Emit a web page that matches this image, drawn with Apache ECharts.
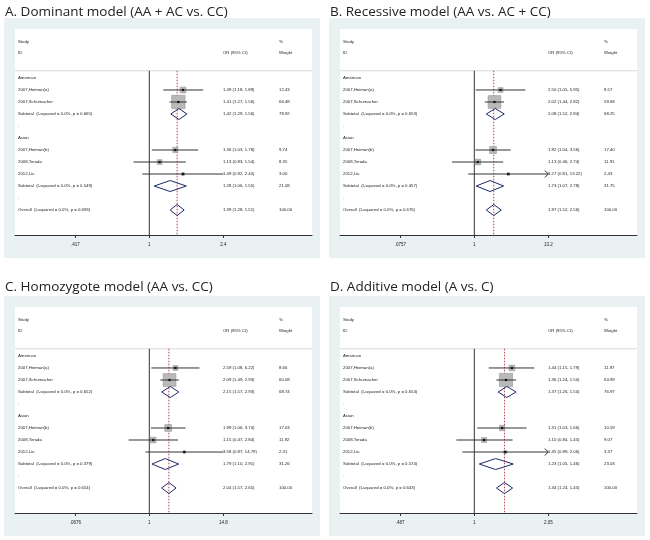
<!DOCTYPE html>
<html><head><meta charset="utf-8">
<script src="https://cdn.jsdelivr.net/npm/echarts@6.0.0/dist/echarts.min.js"></script>
<style>html,body{margin:0;padding:0;background:#fff}#c{width:650px;height:540px}</style>
</head><body><div id="c"></div>
<script>
const panelTitles = ['A. Dominant model (AA + AC vs. CC)', 'B. Recessive model (AA vs. AC + CC)', 'C. Homozygote model (AA vs. CC)', 'D. Additive model (A vs. C)'];
const tickValues = [[0.417, 1, 2.4], [0.0757, 1, 13.2], [0.0676, 1, 14.8], [0.487, 1, 2.05]];
const tickLabels = [['.417', '1', '2.4'], ['.0757', '1', '13.2'], ['.0676', '1', '14.8'], ['.487', '1', '2.05']];
const groupNames = ['American', 'Asian'];
const studyNames = ['2007,Heiman(a)', '2007,Schumacher', '2007,Heiman(b)', '2008,Terada', '2012,Liu'];
// studies: [OR, lower, upper, weight]
const dominantStudies = [[1.49, 1.18, 1.89, 12.43], [1.41, 1.27, 1.56, 66.48], [1.36, 1.03, 1.78, 9.74], [1.13, 0.83, 1.54, 8.35], [1.49, 0.92, 2.40, 3.00]];
// subtotals / overall: [OR, lower, upper, weight, I-squared, p]
const dominantSubtotals = [[1.42, 1.29, 1.56, 78.92, 0.0, 0.665], [1.28, 1.06, 1.55, 21.08, 0.0, 0.549]];
const dominantOverall = [1.39, 1.28, 1.51, 100.00, 0.0, 0.693];
const recessiveStudies = [[2.50, 1.05, 5.95, 8.57], [2.02, 1.44, 2.82, 59.68], [1.92, 1.04, 3.56, 17.40], [1.13, 0.46, 2.74, 11.91], [3.27, 0.81, 13.22, 2.43]];
const recessiveSubtotals = [[2.08, 1.52, 2.84, 68.25, 0.0, 0.653], [1.73, 1.07, 2.78, 31.75, 0.0, 0.457]];
const recessiveOverall = [1.97, 1.52, 2.56, 100.00, 0.0, 0.676];
const homozygoteStudies = [[2.59, 1.08, 6.22, 8.66], [2.09, 1.49, 2.93, 60.08], [1.99, 1.06, 3.74, 17.03], [1.15, 0.47, 2.84, 11.92], [3.58, 0.87, 14.79, 2.31]];
const homozygoteSubtotals = [[2.15, 1.57, 2.93, 68.74, 0.0, 0.652], [1.79, 1.10, 2.91, 31.26, 0.0, 0.379]];
const homozygoteOverall = [2.04, 1.57, 2.65, 100.00, 0.0, 0.654];
const additiveStudies = [[1.44, 1.15, 1.79, 11.97], [1.36, 1.24, 1.50, 64.99], [1.31, 1.03, 1.66, 10.59], [1.10, 0.84, 1.45, 9.07], [1.35, 0.89, 2.06, 3.37]];
const additiveSubtotals = [[1.37, 1.26, 1.50, 76.97, 0.0, 0.654], [1.23, 1.05, 1.46, 23.03, 0.0, 0.574]];
const additiveOverall = [1.34, 1.24, 1.45, 100.00, 0.0, 0.643];

const panelData = [
  [dominantStudies, dominantSubtotals, dominantOverall],
  [recessiveStudies, recessiveSubtotals, recessiveOverall],
  [homozygoteStudies, homozygoteSubtotals, homozygoteOverall],
  [additiveStudies, additiveSubtotals, additiveOverall]
];

// layout
const OFFS = [[0, 0], [325, 0], [0, 278], [325, 278]];
const GL = 15, GT = 29, GW = 297, GH = 206;
const ONE_PX = 134.3, TICK_PX = 74;
const COL_OR = 208, COL_W = 264;
const YMIN = -4.08, YMAX = 13.08;
const FONT = '"Liberation Sans", Arial, sans-serif';
const TXT_SIZE = 4.3;

function fmt(v) { return v.toFixed(2); }
function buildRows(p) {
  const [st, sub, ov] = panelData[p];
  const rows = [];
  rows.push({row: -3, kind: 'hdr', label: 'Study', c2: '', c3: '%'});
  rows.push({row: -2.08, kind: 'hdr', label: 'ID', c2: 'OR (95% CI)', c3: 'Weight'});
  let r = 0;
  const groups = [[0, 1], [2, 3, 4]];
  groups.forEach((g, gi) => {
    rows.push({row: r++, kind: 'grp', label: groupNames[gi]});
    g.forEach(i => {
      const d = st[i];
      rows.push({row: r++, kind: 'study', label: studyNames[i], est: d[0], lo: d[1], hi: d[2], w: d[3],
        c2: fmt(d[0]) + ' (' + fmt(d[1]) + ', ' + fmt(d[2]) + ')', c3: fmt(d[3])});
    });
    const s = sub[gi];
    rows.push({row: r++, kind: 'dia', label: 'Subtotal  (I-squared = ' + s[4].toFixed(1) + '%, p = ' + s[5].toFixed(3) + ')',
      est: s[0], lo: s[1], hi: s[2], c2: fmt(s[0]) + ' (' + fmt(s[1]) + ', ' + fmt(s[2]) + ')', c3: fmt(s[3])});
    rows.push({row: r++, kind: 'blank', label: '.'});
  });
  rows.push({row: r++, kind: 'dia', label: 'Overall  (I-squared = ' + ov[4].toFixed(1) + '%, p = ' + ov[5].toFixed(3) + ')',
    est: ov[0], lo: ov[1], hi: ov[2], c2: fmt(ov[0]) + ' (' + fmt(ov[1]) + ', ' + fmt(ov[2]) + ')', c3: fmt(ov[3])});
  return rows;
}
const panelRows = [0, 1, 2, 3].map(buildRows);

function txt(x, y, s, size) {
  return {type: 'text', x: x, y: y, style: {text: s, fontSize: size || TXT_SIZE, fontFamily: FONT, fill: '#222', align: 'left', verticalAlign: 'middle'}};
}

function rowRenderer(p) {
  const a = Math.log(tickValues[p][2]);
  const clipHi = a, clipLo = Math.log(tickValues[p][0]);
  return function (params, api) {
    const info = panelRows[p][params.dataIndex];
    const cs = params.coordSys;
    const y = api.coord([0, info.row])[1];
    const ch = [];
    ch.push(txt(cs.x + 3, y, info.label));
    if (info.c2) ch.push(txt(cs.x + COL_OR, y, info.c2));
    if (info.c3) ch.push(txt(cs.x + COL_W, y, info.c3));
    if (info.kind === 'study') {
      const xe = api.coord([Math.log(info.est), info.row])[0];
      const lhi = Math.min(Math.log(info.hi), clipHi);
      const llo = Math.max(Math.log(info.lo), clipLo);
      const x1 = api.coord([llo, info.row])[0], x2 = api.coord([lhi, info.row])[0];
      const s = 1.65 * Math.sqrt(info.w);
      ch.push({type: 'rect', shape: {x: xe - s / 2, y: y - s / 2, width: s, height: s}, style: {fill: '#b9b9b9', stroke: '#8c8c8c', lineWidth: 0.5}});
      ch.push({type: 'line', shape: {x1: x1, y1: y, x2: x2, y2: y}, style: {stroke: '#333', lineWidth: 1}});
      if (Math.log(info.hi) > clipHi) {
        ch.push({type: 'polyline', shape: {points: [[x2 - 3.5, y - 3.5], [x2, y], [x2 - 3.5, y + 3.5]]}, style: {stroke: '#333', lineWidth: 1, fill: 'none'}});
      }
      ch.push({type: 'rect', shape: {x: xe - 1.1, y: y - 1.1, width: 2.2, height: 2.2}, style: {fill: '#111'}});
    } else if (info.kind === 'dia') {
      const xe = api.coord([Math.log(info.est), info.row])[0];
      const x1 = api.coord([Math.log(info.lo), info.row])[0], x2 = api.coord([Math.log(info.hi), info.row])[0];
      const h = 5.5;
      ch.push({type: 'polygon', shape: {points: [[x1, y], [xe, y - h], [x2, y], [xe, y + h]]}, style: {fill: 'none', stroke: '#1d2a6a', lineWidth: 1}});
    }
    return {type: 'group', children: ch};
  };
}

function refRenderer(p) {
  return function (params, api) {
    const cs = params.coordSys;
    const yTop = api.coord([0, -0.6])[1];
    const yBot = cs.y + cs.height;
    const x1 = api.coord([0, 0])[0];
    const xo = api.coord([Math.log(panelData[p][2][0]), 0])[0];
    return {type: 'group', children: [
      {type: 'line', shape: {x1: cs.x, y1: yTop, x2: cs.x + cs.width, y2: yTop}, style: {stroke: '#d9d9d9', lineWidth: 1}},
      {type: 'line', shape: {x1: x1, y1: yTop, x2: x1, y2: yBot}, style: {stroke: '#333', lineWidth: 1}},
      {type: 'line', shape: {x1: xo, y1: yTop, x2: xo, y2: yBot}, style: {stroke: '#b0404c', lineWidth: 1, lineDash: [1.5, 1.5]}}
    ]};
  };
}

const option = {animation: false, title: [], grid: [], xAxis: [], yAxis: [], series: [], graphic: {elements: []}};
for (let p = 0; p < 4; p++) {
  const [ox, oy] = OFFS[p];
  const a = Math.log(tickValues[p][2]);
  const perPx = a / TICK_PX;
  const lnTicks = tickValues[p].map(v => Math.log(v));
  option.graphic.elements.push({type: 'rect', z: -10, silent: true, shape: {x: ox + 4, y: oy + 18, width: 316, height: 240}, style: {fill: '#e9f1f3'}});
  option.title.push({text: panelTitles[p], left: ox + 5, top: oy + (p < 2 ? 3 : 0), padding: 0,
    textStyle: {fontSize: 13.5, fontWeight: 'normal', color: '#222', fontFamily: '"Open Sans", "Noto Sans", sans-serif', lineHeight: 18}});
  option.grid.push({left: ox + GL, top: oy + GT, width: GW, height: GH, show: true, backgroundColor: '#fff', borderWidth: 0, containLabel: false});
  option.xAxis.push({gridIndex: p, type: 'value', min: -ONE_PX * perPx, max: (GW - ONE_PX) * perPx,
    axisLine: {show: true, onZero: false, lineStyle: {color: '#333', width: 1}},
    axisTick: {show: true, customValues: lnTicks, length: 3, lineStyle: {color: '#333'}},
    axisLabel: {customValues: lnTicks, margin: 7, fontSize: 4.5, color: '#222', fontFamily: FONT,
      formatter: function (v) { let best = 0; lnTicks.forEach((t, i) => { if (Math.abs(t - v) < Math.abs(lnTicks[best] - v)) best = i; }); return tickLabels[p][best]; }},
    splitLine: {show: false}});
  option.yAxis.push({gridIndex: p, type: 'value', inverse: true, min: YMIN, max: YMAX, show: false});
  option.series.push({type: 'custom', xAxisIndex: p, yAxisIndex: p, z: 1, silent: true, renderItem: refRenderer(p), data: [[0, 0]]});
  option.series.push({type: 'custom', xAxisIndex: p, yAxisIndex: p, z: 3, silent: true, renderItem: rowRenderer(p),
    data: panelRows[p].map(r => [r.est ? Math.log(r.est) : 0, r.row])});
}
const chart = echarts.init(document.getElementById('c'), null, {renderer: 'canvas'});
chart.setOption(option);
</script></body></html>
